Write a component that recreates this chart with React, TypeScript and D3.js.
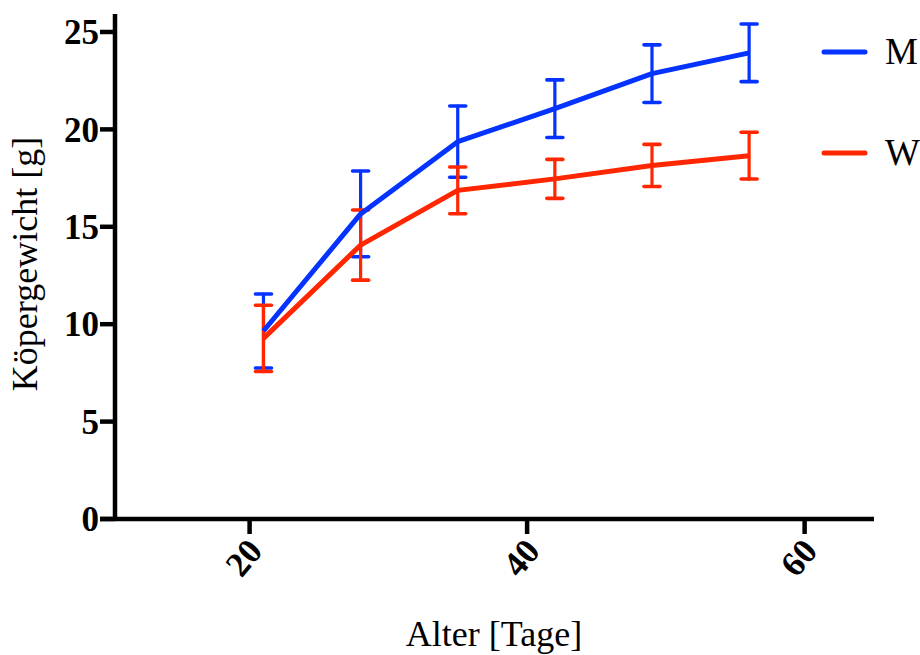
import React from "react";
import * as d3 from "d3";

// Alter in Tagen
const ages = [21, 28, 35, 42, 49, 56];
// Körpergewicht Männchen / Weibchen (Mittelwert und Fehler)
const maleMean = [9.65, 15.66, 19.37, 21.06, 22.86, 23.93];
const maleErr = [1.9, 2.2, 1.83, 1.48, 1.48, 1.48];
const femaleMean = [9.27, 14.06, 16.87, 17.46, 18.15, 18.65];
const femaleErr = [1.7, 1.8, 1.2, 1.0, 1.08, 1.2];

const xTicks = [20, 40, 60];
const yTicks = [0, 5, 10, 15, 20, 25];

const series = [
  { name: "M", color: "#0433FF", mean: maleMean, err: maleErr },
  { name: "W", color: "#FF2600", mean: femaleMean, err: femaleErr },
];

const txt = { fontFamily: "Liberation Serif, serif" };

const App = () => {
  const width = 920;
  const height = 655;

  // Skalen
  const x = d3.scaleLinear().domain([10.3, 65]).range([115, 874]);
  const y = d3.scaleLinear().domain([0, 26]).range([519, 12.5]);

  const line = d3
    .line<number>()
    .x((_, i) => x(ages[i]))
    .y((d) => y(d));

  const capW = 8;

  return (
    <svg
      width={width}
      height={height}
      style={{ position: "absolute", left: 0, top: 0, background: "#fff" }}
    >
      {/* Fehlerbalken */}
      {series.map((s) => (
        <g key={s.name + "err"} stroke={s.color} strokeWidth={3.2} strokeLinecap="round">
          {s.mean.map((m, i) => {
            const cx = x(ages[i]);
            const top = y(m + s.err[i]);
            const bot = y(m - s.err[i]);
            return (
              <g key={i}>
                <line x1={cx} x2={cx} y1={top} y2={bot} />
                <line x1={cx - capW} x2={cx + capW} y1={top} y2={top} strokeWidth={3.6} />
                <line x1={cx - capW} x2={cx + capW} y1={bot} y2={bot} strokeWidth={3.6} />
              </g>
            );
          })}
        </g>
      ))}

      {/* Linien */}
      {series.map((s) => (
        <path
          key={s.name}
          d={line(s.mean) || ""}
          fill="none"
          stroke={s.color}
          strokeWidth={5}
          strokeLinejoin="round"
        />
      ))}

      {/* Achsen */}
      <g stroke="#000" strokeWidth={4.5}>
        <line x1={x.range()[0]} x2={x.range()[0]} y1={y.range()[1] + 1.5} y2={y(0) + 2} />
        <line x1={x.range()[0] - 15} x2={x.range()[1]} y1={y(0)} y2={y(0)} />
        {yTicks.map((t) => (
          <line key={t} x1={x.range()[0] - 15} x2={x.range()[0]} y1={y(t)} y2={y(t)} />
        ))}
        {xTicks.map((t) => (
          <line key={t} x1={x(t)} x2={x(t)} y1={y(0)} y2={y(0) + 15} />
        ))}
      </g>

      {yTicks.map((t) => (
        <text
          key={t}
          x={x.range()[0] - 16}
          y={y(t)}
          dy="0.35em"
          textAnchor="end"
          fontSize={35}
          fontWeight="bold"
          style={txt}
        >
          {t}
        </text>
      ))}

      {xTicks.map((t) => (
        <text
          key={t}
          transform={`translate(${x(t) + 5},${y(0) + 25}) rotate(-50)`}
          dy="0.35em"
          textAnchor="end"
          fontSize={35}
          fontWeight="bold"
          style={txt}
        >
          {t}
        </text>
      ))}

      {/* Achsentitel */}
      <text x={494} y={646} textAnchor="middle" fontSize={36} style={txt}>
        Alter [Tage]
      </text>
      <text
        transform={`translate(37,${264}) rotate(-90)`}
        textAnchor="middle"
        fontSize={36}
        style={txt}
      >
        Köpergewicht [g]
      </text>

      {/* Legende */}
      {series.map((s, i) => {
        const ly = 52 + i * 101;
        return (
          <g key={s.name + "leg"}>
            <line x1={824} x2={865} y1={ly} y2={ly} stroke={s.color} strokeWidth={5} strokeLinecap="round" />
            <text x={885} y={ly + 12} fontSize={37} style={txt}>
              {s.name}
            </text>
          </g>
        );
      })}
    </svg>
  );
};

export default App;
